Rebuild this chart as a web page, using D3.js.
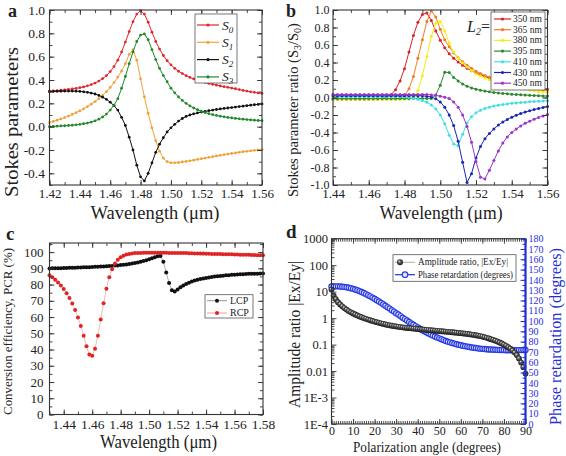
<!DOCTYPE html>
<html><head><meta charset="utf-8">
<script src="https://cdn.jsdelivr.net/npm/d3@7"></script>
<style>
body{margin:0;background:#fff}
svg{display:block}
svg text{font-family:"Liberation Serif","Times New Roman","DejaVu Serif",serif;fill:#222}
</style></head>
<body><svg id="c" width="566" height="456" font-family="Liberation Serif, Times New Roman, serif"></svg>
<script>
// ---------- Panel a data ----------
const wlA = [1.42,1.4225,1.425,1.4275,1.43,1.4325,1.435,1.4375,1.44,1.4425,1.445,1.4475,1.45,1.4525,1.455,1.4575,1.46,1.4625,1.465,1.4675,1.47,1.4725,1.475,1.4775,1.48,1.4825,1.485,1.4875,1.49,1.4925,1.495,1.4975,1.5,1.5025,1.505,1.5075,1.51,1.5125,1.515,1.5175,1.52,1.5225,1.525,1.5275,1.53,1.5325,1.535,1.5375,1.54,1.5425,1.545,1.5475,1.55,1.5525,1.555,1.5575,1.56];
const S0 = [0.305,0.307,0.309,0.312,0.315,0.319,0.323,0.328,0.334,0.341,0.350,0.361,0.374,0.391,0.412,0.438,0.472,0.515,0.570,0.640,0.725,0.815,0.900,0.965,0.995,0.965,0.895,0.81,0.73,0.665,0.61,0.565,0.53,0.50,0.475,0.455,0.437,0.422,0.409,0.398,0.388,0.379,0.371,0.363,0.356,0.349,0.343,0.337,0.331,0.325,0.318,0.311,0.305,0.299,0.294,0.289,0.285];
const S1 = [0.035,0.045,0.055,0.066,0.078,0.091,0.105,0.120,0.136,0.153,0.172,0.193,0.215,0.240,0.268,0.300,0.336,0.378,0.425,0.478,0.540,0.620,0.660,0.570,0.410,0.255,0.115,-0.010,-0.120,-0.210,-0.270,-0.300,-0.310,-0.310,-0.307,-0.303,-0.298,-0.293,-0.287,-0.281,-0.275,-0.269,-0.263,-0.257,-0.251,-0.246,-0.240,-0.235,-0.230,-0.225,-0.220,-0.215,-0.211,-0.207,-0.203,-0.199,-0.196];
const S2 = [0.300,0.302,0.303,0.304,0.305,0.305,0.305,0.304,0.302,0.299,0.294,0.288,0.280,0.268,0.253,0.234,0.210,0.180,0.142,0.080,0.010,-0.090,-0.200,-0.330,-0.430,-0.465,-0.400,-0.310,-0.220,-0.150,-0.095,-0.045,-0.010,0.020,0.048,0.070,0.088,0.100,0.110,0.118,0.125,0.131,0.137,0.142,0.147,0.152,0.156,0.160,0.164,0.168,0.172,0.176,0.180,0.184,0.188,0.191,0.195];
const S3 = [0.000,0.002,0.004,0.006,0.008,0.010,0.013,0.016,0.020,0.025,0.031,0.039,0.050,0.064,0.083,0.108,0.142,0.185,0.240,0.330,0.430,0.540,0.640,0.730,0.785,0.795,0.745,0.660,0.575,0.500,0.438,0.385,0.330,0.290,0.255,0.225,0.200,0.178,0.160,0.145,0.132,0.121,0.111,0.103,0.096,0.090,0.084,0.079,0.075,0.071,0.067,0.064,0.061,0.058,0.056,0.053,0.051];
const stokesNames = ["0","1","2","3"];

// ---------- Panel b data ----------
const wlB = [1.44,1.4425,1.445,1.4475,1.45,1.4525,1.455,1.4575,1.46,1.4625,1.465,1.4675,1.47,1.4725,1.475,1.4775,1.48,1.4825,1.485,1.4875,1.49,1.4925,1.495,1.4975,1.5,1.5025,1.505,1.5075,1.51,1.5125,1.515,1.5175,1.52,1.5225,1.525,1.5275,1.53,1.5325,1.535,1.5375,1.54,1.5425,1.545,1.5475,1.55,1.5525,1.555,1.5575,1.56];
const L2labels = ["350 nm","365 nm","380 nm","395 nm","410 nm","430 nm","450 nm"];
const r350 = [-0.02,-0.02,-0.02,-0.02,-0.02,-0.02,-0.02,-0.02,-0.02,-0.02,-0.015,-0.01,0.0,0.03,0.09,0.19,0.33,0.52,0.71,0.86,0.95,0.965,0.88,0.76,0.655,0.57,0.50,0.45,0.405,0.37,0.335,0.305,0.28,0.26,0.24,0.222,0.207,0.194,0.182,0.17,0.158,0.148,0.139,0.13,0.122,0.114,0.107,0.1,0.094];
const r365 = [-0.02,-0.02,-0.02,-0.02,-0.02,-0.02,-0.02,-0.02,-0.02,-0.02,-0.02,-0.02,-0.02,-0.02,-0.02,-0.01,0.02,0.10,0.24,0.45,0.66,0.87,0.99,0.92,0.78,0.66,0.58,0.51,0.455,0.41,0.37,0.335,0.30,0.275,0.252,0.231,0.212,0.195,0.179,0.165,0.152,0.14,0.129,0.119,0.11,0.101,0.093,0.086,0.079];
const r380 = [-0.02,-0.02,-0.02,-0.02,-0.02,-0.02,-0.02,-0.02,-0.02,-0.02,-0.02,-0.02,-0.02,-0.02,-0.02,-0.02,-0.02,-0.02,0.0,0.08,0.25,0.47,0.70,0.85,0.87,0.76,0.62,0.52,0.45,0.395,0.35,0.31,0.27,0.245,0.222,0.202,0.184,0.167,0.152,0.138,0.125,0.114,0.103,0.094,0.085,0.077,0.07,0.063,0.057];
const r395 = [-0.01,-0.01,-0.01,-0.01,-0.01,-0.01,-0.01,-0.01,-0.01,-0.01,-0.01,-0.01,-0.01,-0.01,-0.01,-0.01,-0.01,-0.01,-0.01,-0.01,-0.01,-0.01,-0.01,0.03,0.14,0.29,0.285,0.23,0.19,0.155,0.13,0.11,0.095,0.083,0.073,0.065,0.058,0.052,0.047,0.042,0.038,0.034,0.031,0.028,0.025,0.022,0.02,0.018,0.016];
const r410 = [0.01,0.01,0.01,0.01,0.01,0.01,0.01,0.01,0.01,0.01,0.01,0.01,0.01,0.01,0.01,0.01,0.005,0.0,-0.01,-0.02,-0.035,-0.055,-0.085,-0.13,-0.20,-0.30,-0.43,-0.53,-0.55,-0.42,-0.29,-0.22,-0.175,-0.145,-0.125,-0.11,-0.098,-0.088,-0.08,-0.073,-0.067,-0.062,-0.057,-0.053,-0.049,-0.045,-0.042,-0.039,-0.036];
const r430 = [0.02,0.02,0.02,0.02,0.02,0.02,0.02,0.02,0.02,0.02,0.02,0.02,0.02,0.02,0.02,0.02,0.02,0.02,0.02,0.02,0.02,0.015,0.005,-0.015,-0.05,-0.11,-0.20,-0.32,-0.50,-0.74,-0.97,-0.87,-0.69,-0.56,-0.47,-0.41,-0.36,-0.315,-0.28,-0.25,-0.225,-0.203,-0.184,-0.167,-0.152,-0.138,-0.125,-0.114,-0.104];
const r450 = [0.035,0.035,0.035,0.035,0.035,0.035,0.035,0.035,0.035,0.035,0.035,0.035,0.035,0.035,0.035,0.035,0.035,0.035,0.035,0.035,0.035,0.035,0.03,0.025,0.015,0.003,-0.012,-0.05,-0.11,-0.20,-0.33,-0.51,-0.73,-0.91,-0.93,-0.83,-0.72,-0.61,-0.52,-0.45,-0.40,-0.36,-0.325,-0.295,-0.27,-0.248,-0.228,-0.21,-0.195];

// ---------- Panel c data ----------
const wlC = [1.43,1.432,1.434,1.436,1.438,1.44,1.442,1.444,1.446,1.448,1.45,1.452,1.454,1.456,1.458,1.46,1.462,1.464,1.466,1.468,1.47,1.472,1.474,1.476,1.478,1.48,1.482,1.484,1.486,1.488,1.49,1.492,1.494,1.496,1.498,1.5,1.502,1.504,1.506,1.508,1.51,1.512,1.514,1.516,1.518,1.52,1.522,1.524,1.526,1.528,1.53,1.532,1.534,1.536,1.538,1.54,1.542,1.544,1.546,1.548,1.55,1.552,1.554,1.556,1.558,1.56,1.562,1.564,1.566,1.568,1.57,1.572,1.574,1.576,1.578,1.58];
const LCP = [89.9,90.0,90.0,90.1,90.1,90.2,90.2,90.3,90.3,90.4,90.5,90.5,90.6,90.7,90.7,90.8,90.9,91.0,91.1,91.2,91.3,91.4,91.5,91.7,91.8,92.0,92.2,92.4,92.7,93.0,93.3,93.6,94.0,94.5,95.0,95.6,96.2,96.9,97.5,97.6,94.0,87.5,81.0,76.5,75.8,77.0,78.3,79.4,80.4,81.2,81.9,82.5,83.0,83.4,83.8,84.1,84.4,84.7,84.9,85.1,85.3,85.5,85.7,85.8,86.0,86.1,86.2,86.3,86.4,86.5,86.6,86.6,86.7,86.7,86.8,86.8];
const RCP = [85.8,84.5,83.0,81.3,79.4,77.2,74.7,71.8,68.4,64.4,59.8,54.5,48.5,42.0,37.0,36.2,40.5,48.5,58.5,68.5,77.5,84.5,89.5,93.0,95.3,96.8,97.8,98.5,98.9,99.2,99.4,99.5,99.5,99.6,99.6,99.6,99.6,99.6,99.6,99.6,99.6,99.6,99.5,99.5,99.5,99.5,99.4,99.4,99.4,99.3,99.3,99.2,99.2,99.1,99.1,99.0,99.0,98.9,98.9,98.8,98.8,98.7,98.7,98.6,98.6,98.5,98.5,98.4,98.4,98.3,98.3,98.2,98.2,98.1,98.1,98.0];

// ---------- Panel d data ----------
const angleD = [0,1,2,3,4,5,6,7,8,9,10,11,12,13,14,15,16,17,18,19,20,21,22,23,24,25,26,27,28,29,30,31,32,33,34,35,36,37,38,39,40,41,42,43,44,45,46,47,48,49,50,51,52,53,54,55,56,57,58,59,60,61,62,63,64,65,66,67,68,69,70,71,72,73,74,75,76,77,78,79,80,81,82,83,84,85,86,87,88,89,90];
const ampRatio = [12,7.0,5.2,4.0,3.3,2.8,2.4,2.1,1.85,1.65,1.5,1.37,1.26,1.16,1.08,1.0,0.94,0.88,0.83,0.78,0.74,0.70,0.665,0.635,0.605,0.58,0.555,0.535,0.515,0.50,0.485,0.47,0.458,0.447,0.437,0.427,0.418,0.41,0.402,0.394,0.387,0.38,0.373,0.366,0.36,0.354,0.348,0.342,0.336,0.33,0.325,0.319,0.314,0.308,0.303,0.297,0.292,0.286,0.281,0.275,0.27,0.264,0.258,0.252,0.246,0.239,0.232,0.225,0.217,0.209,0.2,0.19,0.18,0.17,0.16,0.15,0.14,0.13,0.12,0.11,0.1,0.09,0.08,0.07,0.06,0.05,0.04,0.03,0.021,0.014,0.008];
const phaseRet = [133.5,133.6,133.7,133.7,133.6,133.4,133.2,132.8,132.4,131.9,131.3,130.6,129.9,129.1,128.2,127.2,126.2,125.1,124.0,122.8,121.6,120.3,119.0,117.7,116.3,114.9,113.5,112.1,110.6,109.2,107.7,106.3,104.8,103.3,101.9,100.5,99.1,97.7,96.4,95.1,93.8,92.6,91.4,90.2,89.1,88.0,87.0,86.0,85.0,84.1,83.2,82.3,81.5,80.7,80.0,79.3,78.7,78.1,77.5,77.0,76.5,76.0,75.6,75.2,74.8,74.4,74.1,73.8,73.5,73.2,73.0,72.8,72.6,72.4,72.3,72.2,72.1,72.0,71.9,71.8,71.8,71.7,71.7,71.7,71.7,71.7,71.7,71.8,71.8,71.9,72.0];
const logTickLabels = ["1E-4","1E-3","0.01","0.1","1","10","100","1000"];

// ---------- helpers ----------
const FONT = '"Liberation Serif","Times New Roman","DejaVu Serif",serif';
const svg = d3.select("#c");
const defs = svg.append("defs");
const grad = defs.append("radialGradient").attr("id","sph").attr("cx","50%").attr("cy","50%").attr("r","55%").attr("fx","35%").attr("fy","30%");
grad.append("stop").attr("offset","0%").attr("stop-color","#e8e8e8");
grad.append("stop").attr("offset","45%").attr("stop-color","#555");
grad.append("stop").attr("offset","100%").attr("stop-color","#111");

function rng(a,b,s){const o=[];for(let v=a;v<=b+s*1e-6;v+=s)o.push(+v.toFixed(6));return o;}

function axes(g, x, y, o){
  const [x0,x1]=x.range(), [y0,y1]=y.range();
  const col=o.color||"#333";
  function mk(axis, tr, vals, len, fmt, pad, fs){
    const a=g.append("g").attr("transform",tr).call(axis.tickValues(vals).tickSizeInner(-len).tickSizeOuter(0).tickPadding(pad||3).tickFormat(fmt||(()=>"")));
    a.attr("font-family",FONT);
    a.select(".domain").remove();
    a.selectAll("line").attr("stroke",col).attr("stroke-width",0.9);
    a.selectAll("text").attr("font-size",fs||13).style("font-family",FONT).attr("fill","#222");
    return a;
  }
  mk(d3.axisBottom(x),`translate(0,${y0})`,o.xMinor,3);
  mk(d3.axisBottom(x),`translate(0,${y0})`,o.xMajor,5,o.xFmt,o.padX,o.fsX);
  mk(d3.axisTop(x),`translate(0,${y1})`,o.xMinor,3);
  mk(d3.axisTop(x),`translate(0,${y1})`,o.xMajor,5);
  mk(d3.axisLeft(y),`translate(${x0},0)`,o.yMinor,3);
  mk(d3.axisLeft(y),`translate(${x0},0)`,o.yMajor,5,o.yFmt,o.padY,o.fsY);
  if(!o.noRight){
    mk(d3.axisRight(y),`translate(${x1},0)`,o.yMinor,3);
    mk(d3.axisRight(y),`translate(${x1},0)`,o.yMajor,5);
  }
  g.append("rect").attr("x",x0).attr("y",y1).attr("width",x1-x0).attr("height",y0-y1).attr("fill","none").attr("stroke",col).attr("stroke-width",1.1);
}

function series(g, xs, ys, x, y, color, o){
  const pts=xs.map((v,i)=>[x(v),y(ys[i])]);
  g.append("path").attr("d",d3.line()(pts)).attr("fill","none").attr("stroke",o.lineColor||color).attr("stroke-width",o.lw||1);
  g.append("g").selectAll("circle").data(pts).join("circle")
    .attr("cx",d=>d[0]).attr("cy",d=>d[1]).attr("r",o.r)
    .attr("fill",o.fill||color).attr("stroke",o.stroke||"none").attr("stroke-width",o.sw||0);
}

function title(g, x, y, fs, len, rot, color){
  const t=g.append("text").attr("font-size",fs).attr("text-anchor","middle").attr("fill",color||"#333").style("font-family",FONT);
  if(rot) t.attr("transform",`translate(${x},${y}) rotate(-90)`); else t.attr("x",x).attr("y",y);
  if(len) t.attr("textLength",len).attr("lengthAdjust","spacingAndGlyphs");
  return t;
}
const fmt2 = d=>d3.format(".2f")(d);
const fmt1 = d=>d3.format(".1f")(d).replace("−","-");

// ================= Panel a =================
{
  const g=svg.append("g");
  const x=d3.scaleLinear().domain([1.42,1.56]).range([49.5,262]);
  const y=d3.scaleLinear().domain([-0.5,1.0]).range([185,10]);
  const cols=["#e3262b","#f0a23a","#111111","#22882a"];
  [S0,S1,S2,S3].forEach((s,i)=>series(g,wlA,s,x,y,cols[i],{r:1.4,lw:1}));
  axes(g,x,y,{xMajor:rng(1.42,1.56,0.02),xMinor:rng(1.42,1.56,0.01),yMajor:rng(-0.4,1.0,0.2),yMinor:rng(-0.5,1.0,0.1),
    xFmt:fmt2,yFmt:fmt1,padX:4,padY:4.5,fsX:13,fsY:13.5});
  g.append("rect").attr("x",195).attr("y",14).attr("width",42).attr("height",69).attr("fill","#fff").attr("stroke","#555").attr("stroke-width",0.8);
  stokesNames.forEach((n,i)=>{
    const yy=25+i*17.3;
    g.append("line").attr("x1",197).attr("x2",219).attr("y1",yy).attr("y2",yy).attr("stroke",cols[i]).attr("stroke-width",1.2);
    g.append("circle").attr("cx",208).attr("cy",yy).attr("r",1.6).attr("fill",cols[i]);
    const t=g.append("text").attr("x",222).attr("y",yy+4.5).attr("font-size",13.5).attr("font-style","italic").style("font-family",FONT);
    t.append("tspan").text("S");
    t.append("tspan").attr("font-size",9).attr("dy",3).text(n);
  });
  title(g,155,219,19,129).text("Wavelength (μm)");
  title(g,17.5,122,19,150,true).text("Stokes parameters");
  g.append("text").attr("x",8).attr("y",17).attr("font-size",18).attr("font-weight","bold").style("font-family",FONT).text("a");
}

// ================= Panel b =================
{
  const g=svg.append("g");
  const x=d3.scaleLinear().domain([1.44,1.56]).range([333,547.5]);
  const y=d3.scaleLinear().domain([-1,1]).range([185,10]);
  const cols=["#d8232a","#f07d24","#f2ee12","#2a8a30","#3fe0e4","#1c26b4","#9a35c8"];
  const data=[r350,r365,r380,r395,r410,r430,r450];
  data.forEach((s,i)=>series(g,wlB,s,x,y,cols[i],{r:1.5,lw:1}));
  axes(g,x,y,{xMajor:rng(1.44,1.56,0.02),xMinor:rng(1.44,1.56,0.01),yMajor:rng(-1,1,0.2),yMinor:rng(-1,1,0.1),
    xFmt:fmt2,yFmt:fmt1,padX:4,padY:3.5,fsX:13,fsY:12});
  g.append("rect").attr("x",491).attr("y",12).attr("width",54).attr("height",78).attr("fill","#fff").attr("stroke","#555").attr("stroke-width",0.8);
  L2labels.forEach((n,i)=>{
    const yy=19+i*10.7;
    g.append("line").attr("x1",494).attr("x2",511).attr("y1",yy).attr("y2",yy).attr("stroke",cols[i]).attr("stroke-width",1.2);
    g.append("circle").attr("cx",502.5).attr("cy",yy).attr("r",1.6).attr("fill",cols[i]);
    g.append("text").attr("x",513).attr("y",yy+3).attr("font-size",9.5).style("font-family",FONT).text(n);
  });
  const L=g.append("text").attr("x",467).attr("y",32).attr("font-size",16).attr("font-style","italic").style("font-family",FONT);
  L.append("tspan").text("L");
  L.append("tspan").attr("font-size",10).attr("dy",3).text("2");
  L.append("tspan").attr("dy",-3).attr("font-style","normal").text("=");
  title(g,441,219,19,123).text("Wavelength (μm)");
  const t=title(g,298,110,14.5,null,true);
  t.append("tspan").text("Stokes parameter ratio (S");
  t.append("tspan").attr("font-size",10).attr("dy",3).text("3");
  t.append("tspan").attr("dy",-3).text("/S");
  t.append("tspan").attr("font-size",10).attr("dy",3).text("0");
  t.append("tspan").attr("dy",-3).text(")");
  g.append("text").attr("x",286).attr("y",16.5).attr("font-size",18).attr("font-weight","bold").style("font-family",FONT).text("b");
}

// ================= Panel c =================
{
  const g=svg.append("g");
  const x=d3.scaleLinear().domain([1.43,1.58]).range([49.5,263]);
  const y=d3.scaleLinear().domain([0,105.6]).range([414.5,243]);
  series(g,wlC,LCP,x,y,"#111",{r:2,lw:0.6,lineColor:"#777"});
  series(g,wlC,RCP,x,y,"#e02424",{r:2,lw:0.6,lineColor:"#e88"});
  axes(g,x,y,{xMajor:rng(1.44,1.58,0.02),xMinor:rng(1.43,1.58,0.01),yMajor:rng(0,100,10),yMinor:rng(0,105,5),
    xFmt:fmt2,yFmt:d3.format("d"),padX:5,padY:6,fsX:13.5,fsY:13});
  g.append("rect").attr("x",205).attr("y",294.7).attr("width",48).attr("height",23.3).attr("fill","#fff").attr("stroke","#555").attr("stroke-width",0.8);
  [["LCP","#111","#777"],["RCP","#e02424","#e88"]].forEach((d,i)=>{
    const yy=300.7+i*12.3;
    g.append("line").attr("x1",207).attr("x2",227).attr("y1",yy).attr("y2",yy).attr("stroke",d[2]).attr("stroke-width",0.8);
    g.append("circle").attr("cx",217).attr("cy",yy).attr("r",2).attr("fill",d[1]);
    g.append("text").attr("x",230).attr("y",yy+3.3).attr("font-size",10).style("font-family",FONT).text(d[0]);
  });
  title(g,158.5,448,18,117).text("Wavelength (μm)");
  title(g,12,331.5,13.5,167,true).text("Conversion efficiency, PCR (%)");
  g.append("text").attr("x",6).attr("y",240).attr("font-size",19).attr("font-weight","bold").style("font-family",FONT).text("c");
}

// ================= Panel d =================
{
  const g=svg.append("g");
  const x=d3.scaleLinear().domain([0,90]).range([331.5,525.5]);
  const y=d3.scaleLog().domain([1e-4,1e3]).range([424,238.7]);
  const y2=d3.scaleLinear().domain([0,180]).range([424,238.7]);
  series(g,angleD,phaseRet,x,y2,"#1f2fd8",{r:2.6,lw:1,fill:"#dde3ff",stroke:"#2a3ce0",sw:1.2});
  series(g,angleD,ampRatio,x,y,"#222",{r:2.9,lw:0.8,fill:"url(#sph)",lineColor:"#999"});
  const logMinor=[];
  for(let e=-4;e<3;e++) for(let m=2;m<10;m++) logMinor.push(m*Math.pow(10,e));
  const logMajor=[1e-4,1e-3,1e-2,1e-1,1,10,100,1000];
  axes(g,x,y,{xMajor:rng(0,90,10),xMinor:rng(0,90,1),yMajor:logMajor,yMinor:logMinor,
    xFmt:d3.format("d"),yFmt:(d,i)=>logTickLabels[i],padX:2,padY:3.5,fsX:12,fsY:12.5,noRight:true});
  const blue="#1f2fd8";
  const ra=g.append("g").attr("transform","translate(525.5,0)")
    .call(d3.axisRight(y2).tickValues(rng(0,180,5)).tickSizeInner(-3).tickSizeOuter(0).tickFormat(""));
  ra.select(".domain").remove();
  ra.selectAll("line").attr("stroke",blue);
  const rb=g.append("g").attr("transform","translate(525.5,0)")
    .call(d3.axisRight(y2).tickValues(rng(0,180,10)).tickSizeInner(-5).tickSizeOuter(0).tickPadding(3).tickFormat(d3.format("d")));
  rb.select(".domain").remove();
  rb.selectAll("line").attr("stroke",blue);
  rb.selectAll("text").attr("font-size",10).attr("fill",blue).style("font-family",FONT).style("fill",blue);
  g.append("line").attr("x1",525.5).attr("x2",525.5).attr("y1",238.7).attr("y2",424).attr("stroke",blue).attr("stroke-width",2.2);
  // legend
  g.append("rect").attr("x",393).attr("y",254.7).attr("width",123).attr("height",26.6).attr("fill","#fff").attr("stroke","#555").attr("stroke-width",0.8);
  g.append("line").attr("x1",395).attr("x2",415).attr("y1",262.3).attr("y2",262.3).attr("stroke","#999").attr("stroke-width",0.8);
  g.append("circle").attr("cx",400).attr("cy",262.3).attr("r",3).attr("fill","url(#sph)");
  g.append("text").attr("x",418).attr("y",265.3).attr("font-size",9.5).attr("textLength",90).attr("lengthAdjust","spacingAndGlyphs").style("font-family",FONT).text("Amplitude ratio, |Ex/Ey|");
  g.append("line").attr("x1",395).attr("x2",415).attr("y1",274.7).attr("y2",274.7).attr("stroke",blue).attr("stroke-width",1.2);
  g.append("circle").attr("cx",405).attr("cy",274.7).attr("r",2.8).attr("fill","#dde3ff").attr("stroke","#2a3ce0").attr("stroke-width",1.2);
  g.append("text").attr("x",418).attr("y",277.7).attr("font-size",9.5).attr("textLength",95).attr("lengthAdjust","spacingAndGlyphs").style("font-family",FONT).text("Phase retardation (degrees)");
  title(g,427,451.5,15,148).text("Polarization angle (degrees)");
  title(g,300,334.5,17,147,true).text("Amplitude ratio |Ex/Ey|");
  title(g,561,336.5,17,177,true,blue).style("fill",blue).text("Phase retardation (degrees)");
  g.append("text").attr("x",286).attr("y",238).attr("font-size",19).attr("font-weight","bold").style("font-family",FONT).text("d");
}
</script>
</body></html>
